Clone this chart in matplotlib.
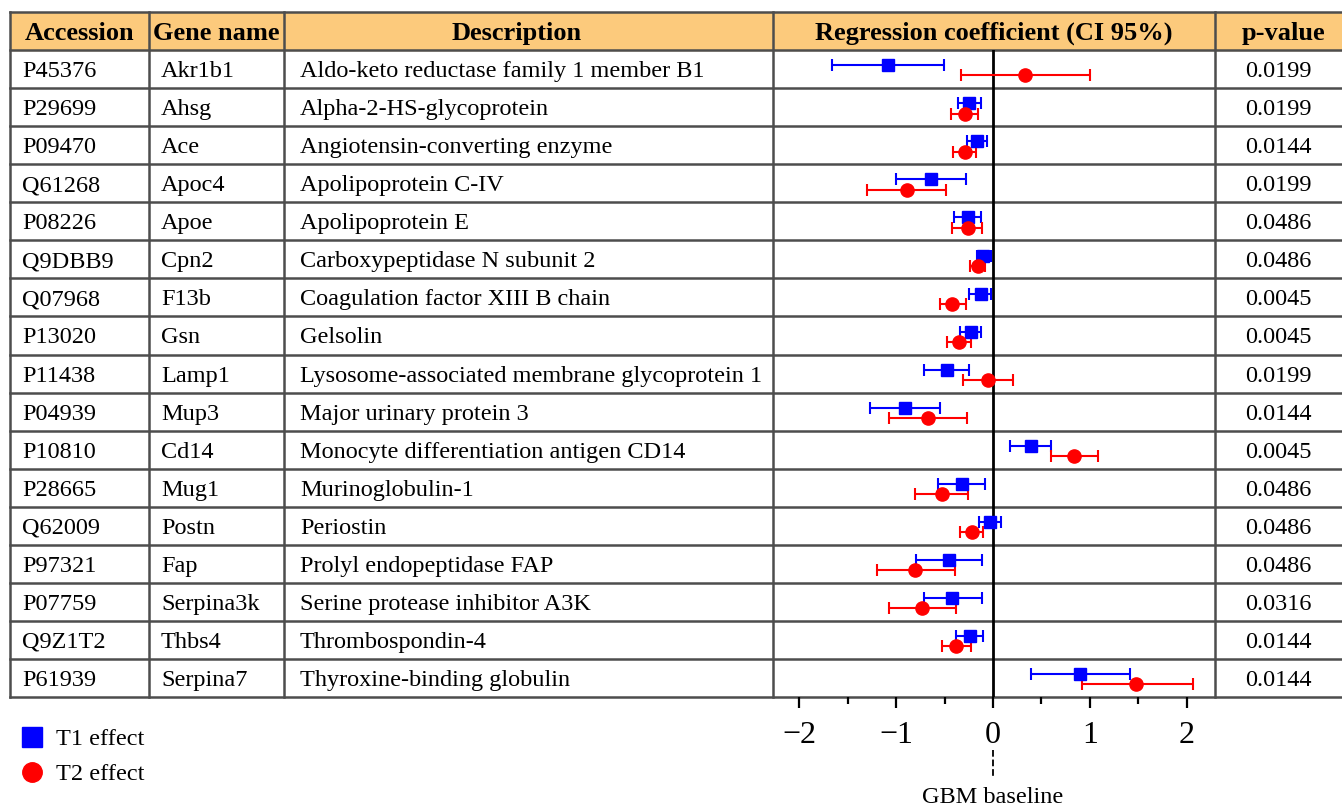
import matplotlib
matplotlib.use('Agg')
import matplotlib.pyplot as plt
from matplotlib.lines import Line2D
from matplotlib.transforms import blended_transform_factory

plt.rcParams['font.family'] = ['Liberation Serif', 'DejaVu Serif']

# data
accession = ['P45376', 'P29699', 'P09470', 'Q61268', 'P08226', 'Q9DBB9', 'Q07968', 'P13020',
             'P11438', 'P04939', 'P10810', 'P28665', 'Q62009', 'P97321', 'P07759', 'Q9Z1T2', 'P61939']
gene = ['Akr1b1', 'Ahsg', 'Ace', 'Apoc4', 'Apoe', 'Cpn2', 'F13b', 'Gsn', 'Lamp1', 'Mup3', 'Cd14',
        'Mug1', 'Postn', 'Fap', 'Serpina3k', 'Thbs4', 'Serpina7']
description = ['Aldo-keto reductase family 1 member B1', 'Alpha-2-HS-glycoprotein',
               'Angiotensin-converting enzyme', 'Apolipoprotein C-IV', 'Apolipoprotein E',
               'Carboxypeptidase N subunit 2', 'Coagulation factor XIII B chain', 'Gelsolin',
               'Lysosome-associated membrane glycoprotein 1', 'Major urinary protein 3',
               'Monocyte differentiation antigen CD14', 'Murinoglobulin-1', 'Periostin',
               'Prolyl endopeptidase FAP', 'Serine protease inhibitor A3K', 'Thrombospondin-4',
               'Thyroxine-binding globulin']
pvalue = ['0.0199', '0.0199', '0.0144', '0.0199', '0.0486', '0.0486', '0.0045', '0.0045', '0.0199',
          '0.0144', '0.0045', '0.0486', '0.0486', '0.0486', '0.0316', '0.0144', '0.0144']

t1_est = [-1.08, -0.25, -0.17, -0.64, -0.26, -0.10, -0.12, -0.23, -0.48, -0.91, 0.39, -0.32, -0.03,
          -0.45, -0.42, -0.24, 0.90]
t1_lo = [-1.66, -0.36, -0.27, -1.00, -0.40, -0.17, -0.25, -0.34, -0.71, -1.27, 0.18, -0.57, -0.14,
         -0.79, -0.71, -0.38, 0.39]
t1_hi = [-0.51, -0.12, -0.06, -0.28, -0.12, -0.02, -0.02, -0.12, -0.25, -0.55, 0.60, -0.08, 0.08,
         -0.11, -0.11, -0.10, 1.41]
t2_est = [0.33, -0.29, -0.29, -0.89, -0.26, -0.16, -0.42, -0.35, -0.05, -0.67, 0.84, -0.53, -0.22,
          -0.80, -0.73, -0.38, 1.48]
t2_lo = [-0.33, -0.43, -0.41, -1.30, -0.42, -0.24, -0.55, -0.48, -0.31, -1.07, 0.60, -0.81, -0.34,
         -1.20, -1.07, -0.53, 0.92]
t2_hi = [1.00, -0.15, -0.18, -0.49, -0.11, -0.08, -0.28, -0.23, 0.21, -0.27, 1.08, -0.26, -0.10,
         -0.39, -0.38, -0.23, 2.06]

headers = ['Accession', 'Gene name', 'Description', 'Regression coefficient (CI 95%)', 'p-value']

W, H = 1342, 807
fig = plt.figure(figsize=(W / 100, H / 100), dpi=100)

# table axes: x in pixels, y in rows (header = -1)
x0, x1 = 10, 1342
top, bottom = 12, 697
tab = fig.add_axes([x0 / W, 1 - bottom / H, (x1 - x0) / W, (bottom - top) / H])
tab.set_xlim(x0, x1)
tab.set_ylim(len(gene) - 0.5, -1.5)
tab.axis('off')

line_c = '#4d4d4d'
col_edges = [10, 149, 284, 773, 1215]
tab.axhspan(-1.5, -0.5, color='#fcca7c', zorder=0)
for k in range(len(gene) + 2):
    tab.plot([x0, x1], [k - 1.5, k - 1.5], color=line_c, lw=1.8, zorder=2, clip_on=False)
for xe in col_edges:
    tab.plot([xe, xe], [-1.5, len(gene) - 0.5], color=line_c, lw=1.8, zorder=2, clip_on=False)

hx = [80, 216, 517, 994, 1284]
for x, h in zip(hx, headers):
    tab.text(x, -1, h, ha='center', va='center_baseline', fontsize=19, fontweight='bold')

for i in range(len(gene)):
    tab.text(22, i, accession[i], ha='left', va='center_baseline', fontsize=17.5)
    tab.text(161, i, gene[i], ha='left', va='center_baseline', fontsize=17.5)
    tab.text(300, i, description[i], ha='left', va='center_baseline', fontsize=17.5)
    tab.text(1278, i, pvalue[i], ha='center', va='center_baseline', fontsize=17.5)

# forest plot axes
ax = fig.add_axes([773 / W, 1 - bottom / H, (1215 - 773) / W, (bottom - 50) / H])
ax.patch.set_alpha(0)
ax.set_xlim(-2.27, 2.29)
ax.set_ylim(len(gene) - 0.5, -0.5)
for s in ax.spines.values():
    s.set_visible(False)
ax.axvline(0, color='black', lw=2, zorder=1)

rows = list(range(len(gene)))
y1 = [r - 0.1 for r in rows]
y2 = [r + 0.17 for r in rows]
ax.errorbar(t1_est, y1, xerr=[[e - l for e, l in zip(t1_est, t1_lo)], [h - e for e, h in zip(t1_est, t1_hi)]],
            fmt='s', color='#0000ff', ms=8.5, capsize=4.5, elinewidth=1.5, capthick=1.5, zorder=3)
ax.errorbar(t2_est, y2, xerr=[[e - l for e, l in zip(t2_est, t2_lo)], [h - e for e, h in zip(t2_est, t2_hi)]],
            fmt='o', color='#ff0000', ms=9.5, capsize=4.5, elinewidth=1.5, capthick=1.5, zorder=3)

ax.set_yticks([])
ax.set_xticks([-2, -1, 0, 1, 2])
ax.set_xticks([-1.5, -0.5, 0.5, 1.5], minor=True)
ax.tick_params(axis='x', which='both', direction='out', length=8, width=1.6, labelsize=23, pad=9)
ax.tick_params(axis='x', which='minor', length=5)

trans = blended_transform_factory(ax.transData, ax.transAxes)
ax.plot([0, 0], [-0.082, -0.124], transform=trans, ls='--', color='black', lw=1.3, clip_on=False)
ax.text(0, -0.155, 'GBM baseline', transform=trans, ha='center', va='center', fontsize=17.5)

handles = [Line2D([], [], marker='s', color='#0000ff', ls='none', ms=14, label='T1 effect'),
           Line2D([], [], marker='o', color='#ff0000', ls='none', ms=14, label='T2 effect')]
fig.legend(handles=handles, loc='upper left', bbox_to_anchor=(20 / W, 1 - 728 / H), frameon=False,
           fontsize=17.5, handlelength=1.0, handletextpad=0.5, labelspacing=0.55, borderaxespad=0,
           borderpad=0)

fig.savefig('out.png', dpi=100)
